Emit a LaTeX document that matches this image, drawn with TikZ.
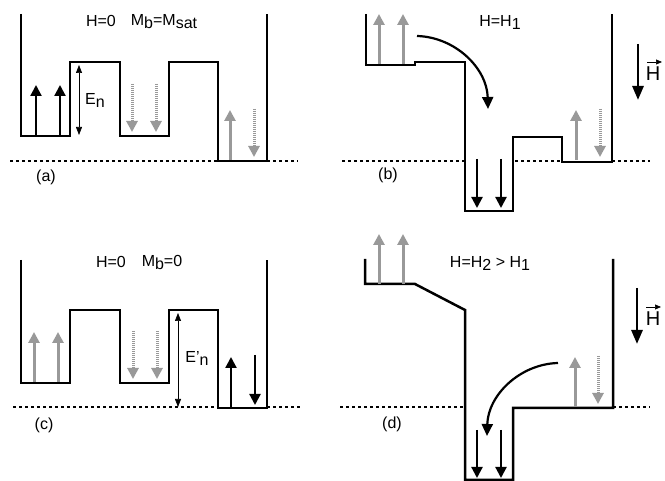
\documentclass[tikz,border=0pt]{standalone}
\usepackage{fontspec}
\setmainfont{Liberation Sans}
\usetikzlibrary{arrows.meta}
\newcommand{\dn}[1]{\raisebox{-3pt}{#1}}

\begin{document}
\begin{tikzpicture}[x=1pt, y=-1pt,
		level/.style={line width=2.5pt, line join=miter},
		zero/.style={line width=1.2pt, dash pattern=on 3pt off 3pt},
		spin/.style={line width=2.2pt, -{Triangle[width=11pt, length=11pt]}},
		grey/.style={line width=3pt, gray!80, dash pattern=on 1.5pt off .5pt, -{Triangle[width=11pt, length=11pt, fill=gray!80]}},
		field/.style={line width=2.8pt, -{Triangle[width=11pt, length=14pt]}},
		hop/.style={line width=2.2pt, -{Triangle[width=11pt, length=12pt]}},
		gap/.style={line width=.7pt, {Triangle[width=6pt, length=8pt]}-{Triangle[width=6pt, length=8pt]}},
		vecarrow/.style={line width=.7pt, -{Triangle[width=5pt, length=6pt]}},
		txt/.style={font=\fontsize{16}{18}\selectfont, inner sep=0pt},
		bigtxt/.style={font=\fontsize{20}{22}\selectfont, inner sep=0pt}]
	\useasboundingbox (0,0) rectangle (665,481);

	% (a)
	\draw[zero] (10,161) -- (218,161);
	\draw[zero] (267,161) -- (298,161);
	\draw[level] (21,14) -- (21,136) -- (70,136) -- (70,62) -- (120,62) -- (120,136) -- (169,136) -- (169,62) -- (218,62) -- (218,161) -- (267,161) -- (267,14);
	\draw[spin] (36,136) -- (36,85);
	\draw[spin] (60,136) -- (60,85);
	\draw[grey] (132,84) -- (132,132);
	\draw[grey] (156,84) -- (156,132);
	\draw[grey] (230,160) -- (230,110);
	\draw[grey] (254,109) -- (254,157);
	\draw[gap] (79,65) -- (79,135);
	\node[txt] (ha) at (101,21) {H=0};
	\node[txt] (ma) at (164,22) {M\dn{b}=M\dn{sat}};
	\node[txt] (ea) at (95,100) {E\dn{n}};
	\node[txt] (la) at (46,177) {(a)};

	% (b)
	\draw[zero] (342,161) -- (465,161);
	\draw[zero] (515,161) -- (562,161);
	\draw[zero] (612,161) -- (650,161);
	\draw[level] (366,14) -- (366,65) -- (415,65) -- (415,62) -- (465,62) -- (465,211) -- (513,211) -- (513,137) -- (562,137) -- (562,162) -- (612,162) -- (612,14);
	\draw[grey] (379,64) -- (379,14);
	\draw[grey] (403,64) -- (403,14);
	\draw[grey] (576,160) -- (576,110);
	\draw[grey] (600,109) -- (600,157);
	\draw[spin] (477,159) -- (477,208);
	\draw[spin] (501,159) -- (501,208);
	\draw[hop] (417,36) .. controls (455,37) and (487,68) .. (488,109);
	\draw[field] (638,44) -- (638,100);
	\node[txt] (hb) at (500,22) {H=H\dn{1}};
	\node[txt] (lb) at (388,175) {(b)};
	\node[bigtxt] (vb) at (653,74) {H};
	\draw[vecarrow] (647,62) -- (662,62);

	% (c)
	\draw[zero] (13,407) -- (218,407);
	\draw[zero] (267,407) -- (300,407);
	\draw[level] (21,260) -- (21,383) -- (70,383) -- (70,310) -- (120,310) -- (120,383) -- (169,383) -- (169,310) -- (218,310) -- (218,408) -- (267,408) -- (267,260);
	\draw[grey] (34,382) -- (34,332);
	\draw[grey] (58,382) -- (58,332);
	\draw[grey] (133,331) -- (133,379);
	\draw[grey] (157,331) -- (157,379);
	\draw[spin] (231,408) -- (231,357);
	\draw[spin] (255,355) -- (255,405);
	\draw[gap] (178,313) -- (178,407);
	\node[txt] (hc) at (111,262) {H=0};
	\node[txt] (mc) at (162,262) {M\dn{b}=0};
	\node[txt] (ec) at (197,358) {E'\dn{n}};
	\node[txt] (lc) at (44,425) {(c)};

	% (d)
	\draw[zero] (340,407) -- (465,407);
	\draw[zero] (613,407) -- (650,407);
	\draw[level] (365,259) -- (365,284) -- (415,284) -- (465,310) -- (465,480) -- (513,480) -- (513,408) -- (613,408) -- (613,259);
	\draw[grey] (379,284) -- (379,234);
	\draw[grey] (403,284) -- (403,234);
	\draw[grey] (575,407) -- (575,357);
	\draw[grey] (598,356) -- (598,404);
	\draw[spin] (477,430) -- (477,478);
	\draw[spin] (501,430) -- (501,478);
	\draw[hop] (558,363) .. controls (520,364) and (488,395) .. (487,436);
	\draw[field] (637,288) -- (637,344);
	\node[txt] (hd) at (490,263) {H=H\dn{2} > H\dn{1}};
	\node[txt] (ld) at (392,424) {(d)};
	\node[bigtxt] (vd) at (653,319) {H};
	\draw[vecarrow] (646,307) -- (661,307);
\end{tikzpicture}
\end{document}
